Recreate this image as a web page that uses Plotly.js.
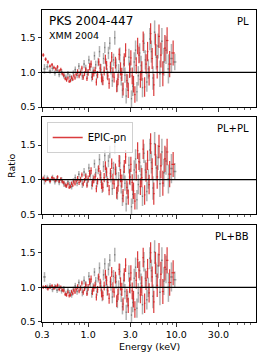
<!DOCTYPE html>
<html><head><meta charset="utf-8">
<script src="https://cdn.plot.ly/plotly-3.0.1.min.js"></script>
<style>html,body{margin:0;padding:0;background:#fff}#chart{width:266px;height:358px}</style>
</head><body><div id="chart"></div>
<script>
const panelNames = ["PL", "PL+PL", "PL+BB"];
const sourceName = "PKS 2004-447";
const obsName = "XMM 2004";
const legendName = "EPIC-pn";

// EPIC-pn (red)
const pnEnergy = [0.31,0.33,0.35,0.37,0.39,0.41,0.43,0.45,0.47,0.49,0.51,0.53,0.55,0.57,0.59,0.61,0.63,0.65,0.67,0.69,0.71,0.73,
  0.76,0.79,0.82,0.85,0.88,0.91,0.94,0.97,1.00,1.04,1.08,1.12,1.16,1.20,1.24,1.28,1.32,1.37,1.42,1.47,1.52,1.57,1.62,1.67,
  1.73,1.79,1.85,1.91,1.97,2.04,2.11,2.18,2.25,2.33,2.41,2.49,2.57,2.66,2.75,2.85,2.95,3.05,3.16,3.27,3.39,3.51,3.64,3.77,3.91,
  4.06,4.21,4.37,4.54,4.72,4.91,5.11,5.32,5.55,5.80,6.07,6.36,6.68,7.03,7.42,7.86,8.40,9.20];
const pnErr = [0.025,0.025,0.025,0.025,0.025,0.025,0.025,0.025,0.025,0.025,0.025,0.025,0.025,0.025,0.025,0.025,0.025,0.025,0.025,0.025,0.025,0.025,
  0.035,0.035,0.035,0.035,0.035,0.035,0.035,0.035,0.05,0.05,0.05,0.05,0.05,0.05,0.05,0.05,0.05,0.065,0.065,0.065,0.065,0.065,0.065,0.065,
  0.075,0.075,0.075,0.075,0.075,0.085,0.085,0.085,0.085,0.095,0.095,0.095,0.095,0.10,0.10,0.11,0.11,0.11,0.12,0.12,0.12,0.12,0.12,0.12,0.12,
  0.14,0.14,0.14,0.14,0.14,0.14,0.15,0.15,0.16,0.16,0.17,0.17,0.18,0.18,0.19,0.19,0.19,0.18];
const pnRatioPL = [1.25,1.19,1.15,1.09,1.11,1.07,1.05,1.08,1.02,1.04,
  0.98,0.96,0.91,0.89,0.92,0.87,0.88,0.93,0.90,0.95,
  0.92,0.97,1.01,0.95,0.99,1.06,0.93,0.98,1.04,0.91,
  1.00,1.08,1.12,0.94,0.99,1.03,0.86,0.97,1.15,1.06,
  0.92,0.88,1.02,1.19,1.10,0.95,0.84,1.08,1.22,1.00,
  0.93,1.14,0.80,0.90,1.26,1.05,0.97,0.76,1.18,1.32,
  0.88,0.74,1.03,1.21,0.95,0.83,0.68,1.10,1.38,1.25,
  0.90,1.02,1.45,0.79,1.12,1.30,0.95,1.56,1.20,0.82,
  1.40,1.08,1.52,1.25,0.98,1.35,1.46,1.12,1.28];
const pnRatioPLPL = [1.02,0.99,1.01,0.98,1.03,1.01,0.99,1.04,0.98,1.01,
  0.97,0.96,0.92,0.91,0.94,0.89,0.90,0.95,0.92,0.97,
  0.94,0.98,1.02,0.96,1.00,1.07,0.94,0.99,1.05,0.92,
  1.01,1.09,1.13,0.95,1.00,1.04,0.87,0.98,1.16,1.07,
  0.93,0.89,1.03,1.20,1.11,0.96,0.85,1.09,1.23,1.01,
  0.94,1.15,0.81,0.91,1.27,1.06,0.98,0.77,1.19,1.33,
  0.89,0.75,1.04,1.22,0.96,0.84,0.69,1.11,1.42,1.26,
  0.90,1.03,1.44,0.78,1.11,1.28,0.93,1.52,1.16,0.80,
  1.36,1.04,1.48,1.20,0.95,1.30,1.40,1.08,1.22];
const pnRatioPLBB = [1.00,1.01,0.98,1.00,1.02,0.99,1.01,1.03,0.97,1.00,
  0.96,0.95,0.90,0.89,0.93,0.88,0.89,0.94,0.91,0.96,
  0.93,0.97,1.01,0.95,0.99,1.06,0.93,0.98,1.04,0.91,
  1.00,1.08,1.12,0.94,0.99,1.03,0.86,0.97,1.15,1.06,
  0.92,0.88,1.02,1.19,1.10,0.95,0.84,1.08,1.22,1.00,
  0.93,1.14,0.80,0.90,1.26,1.05,0.97,0.76,1.18,1.32,
  0.88,0.74,1.03,1.21,0.95,0.83,0.68,1.10,1.40,1.25,
  0.89,1.02,1.43,0.77,1.10,1.27,0.92,1.50,1.15,0.79,
  1.35,1.03,1.47,1.19,0.94,1.29,1.39,1.07,1.21];

// MOS (grey)
const mosEnergy = [0.32,0.345,0.37,0.395,0.42,0.445,0.47,0.50,0.53,0.56,0.59,0.62,0.65,0.68,0.715,0.75,0.785,0.82,
  0.86,0.90,0.94,0.98,1.02,1.06,1.10,1.14,1.18,1.22,1.26,1.30,1.345,1.395,1.445,1.495,1.545,1.595,1.645,
  1.70,1.76,1.82,1.88,1.94,2.005,2.075,2.145,2.215,2.29,2.37,2.45,2.53,2.615,2.70,2.80,2.90,3.00,3.10,
  3.21,3.33,3.45,3.575,3.705,3.84,3.985,4.135,4.29,4.455,4.63,4.815,
  5.01,5.215,5.435,5.675,5.935,6.215,6.52,6.855,7.225,7.64,8.13,8.80,9.60];
const mosErr = [0.07,0.04,0.04,0.04,0.04,0.04,0.04,0.04,0.04,0.04,0.04,0.04,0.04,0.04,0.045,0.045,0.045,0.045,
  0.06,0.06,0.06,0.06,0.06,0.06,0.06,0.06,0.06,0.06,0.06,0.06,0.08,0.08,0.08,0.08,0.08,0.08,0.08,
  0.09,0.09,0.09,0.09,0.09,0.10,0.10,0.10,0.10,0.11,0.11,0.11,0.11,0.11,0.11,0.12,0.12,0.12,0.12,
  0.14,0.14,0.14,0.14,0.14,0.14,0.14,0.14,0.14,0.14,0.14,0.14,
  0.16,0.16,0.17,0.17,0.18,0.18,0.19,0.19,0.20,0.20,0.21,0.21,0.12];
const mosRatioPL = [1.05,1.08,1.02,1.06,0.99,1.03,0.97,1.01,0.95,0.93,
  0.98,0.94,0.91,0.99,1.04,0.96,1.09,1.01,0.95,1.12,
  1.05,0.97,1.18,1.08,0.93,1.02,1.24,1.11,0.96,1.15,
  1.30,1.04,0.90,1.20,1.36,1.12,0.98,1.28,1.42,1.06,
  0.88,1.18,1.50,1.10,0.82,1.02,1.25,0.92,0.74,1.12,
  0.96,0.66,0.85,1.22,1.05,0.62,0.80,1.15,1.32,0.72,
  0.95,1.28,1.10,0.78,1.42,1.18,0.86,1.05,1.48,1.30,
  0.92,1.58,1.22,1.38,0.98,1.45,1.15,1.32,1.05,1.20,
  1.15];
const mosRatioPLPL = [1.00,1.02,0.98,1.03,0.97,1.01,0.96,1.00,0.94,0.92,
  0.97,0.93,0.90,0.98,1.03,0.95,1.08,1.00,0.94,1.11,
  1.04,0.96,1.17,1.07,0.92,1.01,1.23,1.10,0.95,1.14,
  1.29,1.03,0.89,1.19,1.35,1.11,0.97,1.27,1.40,1.05,
  0.87,1.17,1.48,1.09,0.81,1.01,1.24,0.91,0.73,1.11,
  0.95,0.65,0.84,1.21,1.04,0.61,0.79,1.14,1.30,0.71,
  0.93,1.25,1.07,0.76,1.38,1.14,0.83,1.01,1.43,1.25,
  0.88,1.52,1.17,1.32,0.94,1.40,1.10,1.27,1.01,1.16,
  1.12];
const mosRatioPLBB = [1.15,1.00,1.02,0.97,1.01,0.96,1.00,0.95,0.98,0.91,
  0.96,0.92,0.89,0.97,1.02,0.94,1.07,0.99,0.93,1.10,
  1.03,0.95,1.16,1.06,0.91,1.00,1.22,1.09,0.94,1.13,
  1.28,1.02,0.88,1.18,1.34,1.10,0.96,1.26,1.39,1.04,
  0.86,1.16,1.47,1.08,0.80,1.00,1.23,0.90,0.72,1.10,
  0.94,0.64,0.83,1.20,1.03,0.60,0.78,1.13,1.29,0.70,
  0.92,1.24,1.06,0.75,1.37,1.13,0.82,1.00,1.42,1.24,
  0.87,1.51,1.16,1.31,0.93,1.39,1.09,1.26,1.00,1.15,
  1.11];

const xTickVals = [0.3, 1, 3, 10, 30];
const xTickText = ["0.3", "1.0", "3.0", "10.0", "30.0"];
const xMinorVals = [0.4,0.5,0.6,0.7,0.8,0.9,2,4,5,6,7,8,9,20,40,50,60,70];
const yTickVals = [0.5, 1.0, 1.5];
const yTickText = ["0.5", "1.0", "1.5"];

const pnSets = [pnRatioPL, pnRatioPLPL, pnRatioPLBB];
const mosSets = [mosRatioPL, mosRatioPLPL, mosRatioPLBB];

function binErr(e) {
  const minus = [], plus = [];
  for (let i = 0; i < e.length; i++) {
    const lo = i > 0 ? Math.sqrt(e[i-1]*e[i]) : e[i]*Math.sqrt(e[i]/e[i+1]);
    const hi = i < e.length-1 ? Math.sqrt(e[i]*e[i+1]) : e[i]*Math.sqrt(e[i]/e[i-1]);
    minus.push(e[i]-lo); plus.push(hi-e[i]);
  }
  return {minus, plus};
}
const pnX = binErr(pnEnergy), mosX = binErr(mosEnergy);

const RED = 'rgba(214,39,40,0.9)';
const GREY = 'rgba(0,0,0,0.3)';
const traces = [];
const FONT = 'DejaVu Sans, sans-serif';

for (let p = 0; p < 3; p++) {
  const xa = p === 0 ? 'x' : 'x' + (p+1), ya = p === 0 ? 'y' : 'y' + (p+1);
  traces.push({x: mosEnergy, y: mosSets[p], xaxis: xa, yaxis: ya, type: 'scatter', mode: 'markers',
    marker: {size: 1, color: 'rgba(0,0,0,0)'}, showlegend: false, hoverinfo: 'skip',
    error_y: {type: 'data', array: mosErr, color: GREY, thickness: 1.5, width: 0},
    error_x: {type: 'data', array: mosX.plus, arrayminus: mosX.minus, symmetric: false, color: GREY, thickness: 1.5, width: 0}});
  traces.push({x: pnEnergy, y: pnSets[p], xaxis: xa, yaxis: ya, type: 'scatter', mode: 'markers',
    marker: {size: 1, color: 'rgba(0,0,0,0)'}, showlegend: false, hoverinfo: 'skip',
    error_y: {type: 'data', array: pnErr, color: RED, thickness: 1.2, width: 0},
    error_x: {type: 'data', array: pnX.plus, arrayminus: pnX.minus, symmetric: false, color: RED, thickness: 1.2, width: 0}});
}
traces.push({x: [null], y: [null], xaxis: 'x2', yaxis: 'y2', type: 'scatter', mode: 'lines',
  line: {color: RED, width: 1.5}, name: legendName, showlegend: true});

const domains = [[0.689, 1], [0.345, 0.656], [0, 0.311]];
const layout = {
  width: 266, height: 358, margin: {l: 42, r: 10, t: 10, b: 36},
  paper_bgcolor: '#fff', plot_bgcolor: '#fff',
  font: {family: FONT, size: 9, color: '#000'},
  showlegend: true,
  legend: {x: 0.022, y: 0.641, xanchor: 'left', yanchor: 'top', bgcolor: 'rgba(255,255,255,0.8)',
    bordercolor: '#d0d0d0', borderwidth: 1, font: {size: 10}, tracegroupgap: 0, itemwidth: 30},
  shapes: [], annotations: []
};
for (let p = 0; p < 3; p++) {
  const sfx = p === 0 ? '' : String(p+1);
  layout['xaxis' + sfx] = {type: 'log', range: [Math.log10(0.3), Math.log10(80)], anchor: 'y' + sfx,
    domain: [0, 1], tickmode: 'array', tickvals: xTickVals, ticktext: xTickText, showticklabels: p === 2,
    ticks: 'outside', ticklen: 3.5, tickwidth: 0.8, tickcolor: '#000',
    minor: {tickmode: 'array', tickvals: xMinorVals, ticks: 'outside', ticklen: 2, tickwidth: 0.6, tickcolor: '#000', showgrid: false},
    showline: true, linecolor: '#000', linewidth: 1, mirror: true, showgrid: false, zeroline: false,
    tickfont: {size: 9.5}};
  layout['yaxis' + sfx] = {range: [0.5, 1.9], domain: domains[p], anchor: 'x' + sfx,
    tickmode: 'array', tickvals: yTickVals, ticktext: yTickText,
    ticks: 'outside', ticklen: 3.5, tickwidth: 0.8, tickcolor: '#000',
    showline: true, linecolor: '#000', linewidth: 1, mirror: true, showgrid: false, zeroline: false,
    tickfont: {size: 9.5}};
  layout.shapes.push({type: 'line', xref: 'x' + sfx + ' domain', x0: 0, x1: 1, yref: 'y' + sfx, y0: 1, y1: 1,
    line: {color: '#000', width: 1.2}});
  layout.annotations.push({text: panelNames[p], xref: 'x' + sfx + ' domain', yref: 'y' + sfx + ' domain',
    x: 0.977, y: 0.885, xanchor: 'right', yanchor: 'middle', showarrow: false, font: {size: 10}});
}
layout.annotations.push({text: sourceName, xref: 'x domain', yref: 'y domain', x: 0.03, y: 0.89,
  xanchor: 'left', yanchor: 'middle', showarrow: false, borderpad: 0, font: {size: 12}});
layout.annotations.push({text: obsName, xref: 'x domain', yref: 'y domain', x: 0.03, y: 0.735,
  xanchor: 'left', yanchor: 'middle', showarrow: false, borderpad: 0, font: {size: 9.5}});
layout.annotations.push({text: 'Energy (keV)', xref: 'paper', yref: 'paper', x: 0.5, y: 0,
  xanchor: 'center', yanchor: 'middle', yshift: -24, showarrow: false, font: {size: 9.5}});
layout.annotations.push({text: 'Ratio', xref: 'paper', yref: 'paper', x: 0, y: 0.5, textangle: -90,
  xanchor: 'center', yanchor: 'middle', xshift: -31, showarrow: false, font: {size: 9.5}});

Plotly.newPlot('chart', traces, layout, {staticPlot: true, displayModeBar: false});
</script></body></html>
